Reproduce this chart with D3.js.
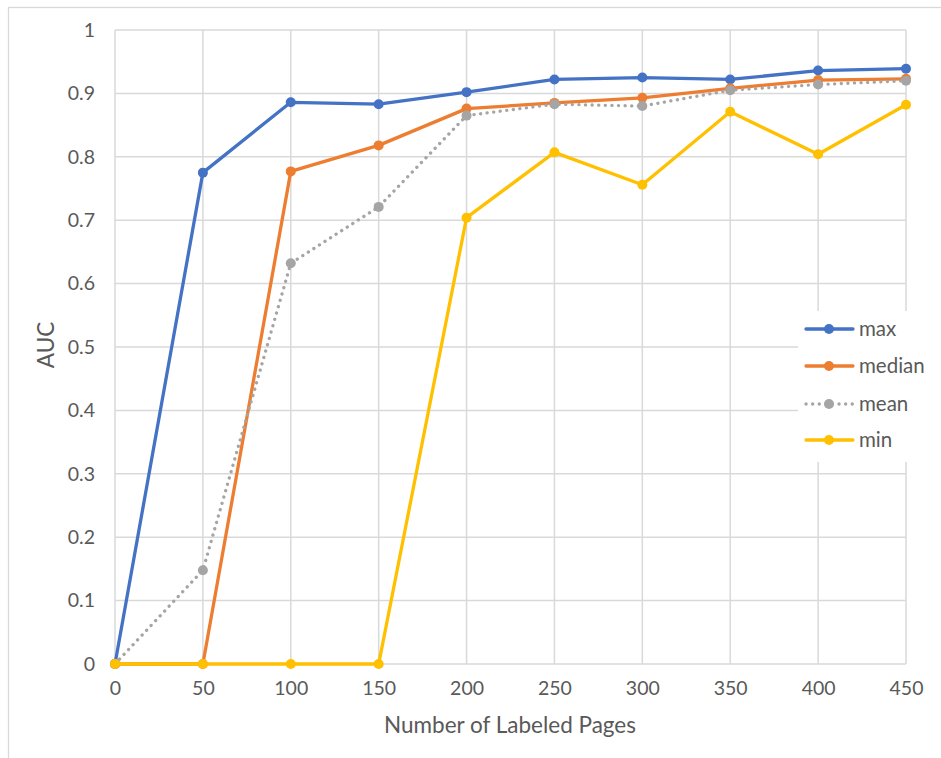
<!DOCTYPE html>
<html>
<head>
<meta charset="utf-8">
<script src="https://cdn.jsdelivr.net/npm/d3@7"></script>
<style>
  html, body { margin: 0; padding: 0; background: #fff; }
  svg { display: block; font-family: Lato, "Open Sans", sans-serif; }
</style>
</head>
<body>
<svg id="chart" width="941" height="758"></svg>
<script>
// Labeled-page counts along the x axis
const pages = [0, 50, 100, 150, 200, 250, 300, 350, 400, 450];

// AUC summary statistics per labeled-page count
const maxAUC    = [0, 0.775, 0.886, 0.883, 0.902, 0.922, 0.925, 0.922, 0.936, 0.939];
const medianAUC = [0, 0, 0.777, 0.818, 0.876, 0.885, 0.893, 0.908, 0.921, 0.923];
const meanAUC   = [0, 0.148, 0.632, 0.721, 0.865, 0.883, 0.880, 0.905, 0.914, 0.920];
const minAUC    = [0, 0, 0, 0, 0.704, 0.807, 0.756, 0.871, 0.804, 0.882];

const xTicks = [0, 50, 100, 150, 200, 250, 300, 350, 400, 450];
const yTicks = [0, 0.1, 0.2, 0.3, 0.4, 0.5, 0.6, 0.7, 0.8, 0.9, 1];

const series = [
  { name: "max",    values: maxAUC,    color: "#4472C4", dotted: false },
  { name: "median", values: medianAUC, color: "#ED7D31", dotted: false },
  { name: "mean",   values: meanAUC,   color: "#A5A5A5", dotted: true },
  { name: "min",    values: minAUC,    color: "#FFC000", dotted: false }
];

const svg = d3.select("#chart");
const plot = { left: 115, right: 906, top: 30, bottom: 664 };
const textColor = "#595959";
const gridColor = "#D9D9D9";

// Outer chart frame
svg.append("rect")
  .attr("x", 8.5).attr("y", 7.5)
  .attr("width", 1000).attr("height", 1000)
  .attr("fill", "#fff").attr("stroke", gridColor).attr("stroke-width", 1.3);

const x = d3.scaleLinear().domain([0, 450]).range([plot.left, plot.right]);
const y = d3.scaleLinear().domain([0, 1]).range([plot.bottom, plot.top]);

// Gridlines
const grid = svg.append("g");
grid.selectAll("line.h").data(yTicks).join("line")
  .attr("x1", plot.left).attr("x2", plot.right)
  .attr("y1", d => y(d)).attr("y2", d => y(d))
  .attr("stroke", gridColor).attr("stroke-width", 1.5);
grid.selectAll("line.v").data(xTicks).join("line")
  .attr("x1", d => x(d)).attr("x2", d => x(d))
  .attr("y1", plot.top).attr("y2", plot.bottom)
  .attr("stroke", gridColor).attr("stroke-width", 1.5);

// Y axis labels
const yAxis = svg.append("g")
  .attr("transform", `translate(${plot.left - 20},0)`)
  .call(d3.axisLeft(y).tickValues(yTicks).tickFormat(d3.format("~g")).tickSize(0).tickPadding(0));
yAxis.select(".domain").remove();
yAxis.selectAll("text")
  .attr("fill", textColor).attr("font-size", 19.5).attr("font-family", "Lato, sans-serif");

// X axis labels
const xAxis = svg.append("g")
  .attr("transform", `translate(0,${plot.bottom + 17})`)
  .call(d3.axisBottom(x).tickValues(xTicks).tickSize(0).tickPadding(0));
xAxis.select(".domain").remove();
xAxis.selectAll("text")
  .attr("fill", textColor).attr("font-size", 19.5).attr("font-family", "Lato, sans-serif");

// Axis titles
svg.append("text")
  .attr("x", 510).attr("y", 733)
  .attr("text-anchor", "middle")
  .attr("fill", textColor).attr("font-size", 22.5)
  .text("Number of Labeled Pages");
svg.append("text")
  .attr("transform", "translate(54,345) rotate(-90)")
  .attr("text-anchor", "middle")
  .attr("fill", textColor).attr("font-size", 22.5)
  .text("AUC");

// Series lines and markers
const line = d3.line().x((d, i) => x(pages[i])).y(d => y(d));
series.forEach(s => {
  const g = svg.append("g");
  g.append("path")
    .attr("d", line(s.values))
    .attr("fill", "none")
    .attr("stroke", s.color)
    .attr("stroke-width", 3.3)
    .attr("stroke-linejoin", "round")
    .attr("stroke-linecap", "round")
    .attr("stroke-dasharray", s.dotted ? "0.1 6.5" : null);
  g.selectAll("circle").data(s.values).join("circle")
    .attr("cx", (d, i) => x(pages[i])).attr("cy", d => y(d))
    .attr("r", 5).attr("fill", s.color);
});

// Legend
const legend = svg.append("g");
legend.append("rect")
  .attr("x", 798).attr("y", 311).attr("width", 140).attr("height", 151)
  .attr("fill", "#fff");
const legendY = [329, 366, 404, 440];
series.forEach((s, i) => {
  const row = legend.append("g").attr("transform", `translate(0,${legendY[i]})`);
  row.append("line")
    .attr("x1", 806).attr("x2", 853).attr("y1", 0).attr("y2", 0)
    .attr("stroke", s.color).attr("stroke-width", 3.3)
    .attr("stroke-linecap", "round")
    .attr("stroke-dasharray", s.dotted ? "0.1 6.5" : null);
  row.append("circle").attr("cx", 829).attr("cy", 0).attr("r", 5).attr("fill", s.color);
  row.append("text")
    .attr("x", 859).attr("y", 0).attr("dy", "0.35em")
    .attr("fill", textColor).attr("font-size", 20.5)
    .text(s.name);
});
</script>
</body>
</html>
